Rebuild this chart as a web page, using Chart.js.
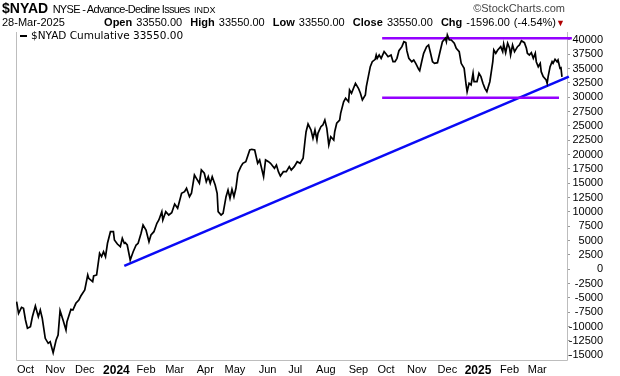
<!DOCTYPE html>
<html>
<head>
<meta charset="utf-8">
<script src="https://cdn.jsdelivr.net/npm/chart.js@4.4.1/dist/chart.umd.min.js"></script>
<style>
  html, body { margin: 0; padding: 0; background: #fff; }
  #wrap { position: relative; width: 620px; height: 376px; font-family: "Liberation Sans", Arial, sans-serif; color: #000; overflow: hidden; }
  canvas { position: absolute; left: 0; top: 0; }
  .hdr { position: absolute; white-space: nowrap; }
  .hdr b { font-weight: bold; }
</style>
</head>
<body>
<div id="wrap">
  <canvas id="myChart" width="620" height="376"></canvas>
  <div class="hdr" style="left:2px;top:0;line-height:16px;">
    <b style="font-size:14px">$NYAD</b> <span style="font-size:11px;letter-spacing:-0.7px">NYSE - Advance-Decline Issues</span> <span style="font-size:9px">INDX</span>
  </div>
  <div class="hdr" style="right:55px;top:1px;line-height:14px;font-size:11px;color:#444;">&copy;StockCharts.com</div>
  <div class="hdr" style="left:2px;top:15px;line-height:14px;font-size:11px;">28-Mar-2025</div>
  <div class="hdr" style="right:64px;top:15px;line-height:14px;font-size:11px;word-spacing:1px;">
    <b>Open</b> 33550.00 &nbsp;<b>High</b> 33550.00 &nbsp;<b>Low</b> 33550.00 &nbsp;<b>Close</b> 33550.00 &nbsp;<b>Chg</b> -1596.00 (-4.54%)
  </div>
  <div class="hdr" style="left:556px;top:17px;line-height:12px;font-size:9px;color:#b00000;">&#9660;</div>
</div>
<script>
// month ticks: calendar days since 2023-10-02 (first trading day of each month)
const monthDays = [0, 30, 60, 92, 122, 151, 182, 212, 245, 273, 304, 337, 365, 396, 427, 458, 490, 518];
const monthLabels = ['Oct', 'Nov', 'Dec', '2024', 'Feb', 'Mar', 'Apr', 'May', 'Jun', 'Jul', 'Aug', 'Sep', 'Oct', 'Nov', 'Dec', '2025', 'Feb', 'Mar'];

const yTickValues = [-15000, -12500, -10000, -7500, -5000, -2500, 0, 2500, 5000, 7500, 10000, 12500, 15000,
  17500, 20000, 22500, 25000, 27500, 30000, 32500, 35000, 37500, 40000];

// $NYAD cumulative, days since 2023-10-02
const nyadDays = [
  -9, -7, -4, -2, 0, 2, 5, 7, 10, 13, 15, 17, 20, 23, 25, 28, 31, 33, 35, 38,
  41, 42, 46, 48, 51, 54, 56, 60, 63, 64, 68, 69, 72, 75, 77, 79, 81, 83, 86, 89,
  90, 93, 96, 98, 100, 101, 103, 106, 109, 112, 114, 117, 119, 122, 125, 127, 130, 133, 135,
  138, 139, 142, 145, 148, 151, 154, 158, 161, 163, 166, 168, 171, 173, 176, 178, 181, 183, 185, 187,
  189, 192, 194, 195, 198, 200, 203, 205, 207, 209, 211, 213, 215, 218, 220, 223, 227, 229, 232, 235,
  237, 241, 243, 246, 248, 252, 254, 256, 258, 261, 264, 267, 269, 272, 275, 278, 281, 283,
  284, 286, 289, 291, 293, 295, 296, 299, 301, 303, 305, 307, 309, 312, 313, 315, 318, 319, 322, 324,
  327, 328, 330, 332, 334, 337, 339, 341, 344, 345, 347, 349, 351, 354, 355, 356, 358, 360, 363, 365,
  367, 370, 372, 374, 376, 378, 381, 383, 385, 386, 388, 391, 393, 395, 398, 399, 401, 403, 406, 408,
  410, 412, 414, 417,
  420, 422, 425, 426, 427, 429, 431, 434, 436, 439, 441, 444, 445, 446, 447, 449, 451, 453, 454, 457,
  459, 461, 463, 465, 467, 468, 470, 472, 473, 474, 476, 478, 481, 483, 484, 486, 488, 490, 491, 493,
  495, 498, 500, 502, 505, 507, 508, 510, 512, 514, 516, 517, 519, 521, 522, 524, 527, 528, 529, 531,
  533, 534, 536, 538, 539, 541, 542, 543
];
const nyadValues = [
  -5650, -7680, -6630, -6800, -8840, -10290, -10010, -8270, -6400, -8270, -7100, -8550, -12040, -12910, -12630, -14550, -12330, -11460, -7220, -8840,
  -10590, -9140, -6980, -7100, -5930, -5360, -4660, -3610, -990, -1570, -2160, -1170, -990, 2790, 2200, 3070, 2200, 4540, 6560, 6560,
  5110, 4410, 3940, 5410, 4540, 4640, 4240, 1620, 3070, 4240, 4540, 6280, 7730, 6860, 4810, 5980, 6560, 8020, 8600,
  10050, 8600, 10050, 9470, 9870, 11390, 10640, 13260, 13540, 14130, 12660, 13260, 16450, 15870, 15000, 17320, 16750, 15280, 16150, 15000,
  16150, 14700, 13260, 10050, 9470, 9770, 12660, 13830, 12380, 13950, 12660, 14130, 16750, 17900, 18490, 18770, 20810, 20930, 20810, 18490,
  19070, 16150, 19070, 18770, 18490, 17620, 18190, 17020, 16270, 17020, 17020, 17900, 17320, 17900, 18770, 18490, 19360, 22550,
  24000, 25340, 24300, 22850, 24300, 22550, 23720, 24870, 25170, 26040, 24590, 21680, 23130, 22550, 24000, 25470, 26040, 27210, 29230, 29830,
  29230, 31280, 30700, 31570, 32440, 31570, 30700, 29530, 30400, 31850, 33600, 35340, 36210, 36630, 37380, 36800, 37380, 36800, 37960, 37550,
  37080, 37380, 36210, 36210, 36800, 38130, 38830, 39700, 39530, 38130, 36800, 36210, 36510, 35930, 34890, 34640, 36210, 37680, 38830, 39130,
  37680, 36210, 35930, 36040,
  38250, 39700, 40290, 39700, 40870, 40000, 40000, 39420, 38550, 37960, 35930, 35060, 33600, 32150, 30980, 32440, 32150, 34190, 32720, 32720,
  34190, 33600, 32440, 31570, 30980, 31570, 32720, 35060, 36210, 38250, 37680, 38250, 38830, 37960, 39300, 37780, 39420, 38550, 37380, 39130,
  37960, 38830, 39130, 39870, 39530, 38550, 37680, 37380, 37780, 36800, 37680, 36210, 35340, 35930, 34470, 33600, 33020, 32440, 33600, 35340,
  36210, 35930, 36630, 36210, 36510, 35060, 35150, 33550
];

// drawn annotation lines: [startDay, endDay] and [startValue, endValue]
const upperBandDays = [361, 553];
const upperBandValues = [40290, 40290];
const lowerBandDays = [361, 540];
const lowerBandValues = [29930, 29930];
const trendDays = [100, 550];
const trendValues = [600, 33600];

const legendText = '$NYAD Cumulative 33550.00';

const toPoints = (xs, ys) => xs.map((x, i) => ({ x: x, y: ys[i] }));

const framePlugin = {
  id: 'frame',
  beforeDatasetsDraw(chart) {
    const { ctx, chartArea: a } = chart;
    ctx.save();
    ctx.strokeStyle = '#bdbdbd';
    ctx.lineWidth = 1;
    ctx.beginPath();
    ctx.moveTo(a.left + 0.5, a.top);
    ctx.lineTo(a.left + 0.5, a.bottom + 0.5);
    ctx.lineTo(a.right + 0.5, a.bottom + 0.5);
    ctx.lineTo(a.right + 0.5, a.top);
    ctx.stroke();
    ctx.restore();
  },
  afterDraw(chart) {
    const { ctx, chartArea: a } = chart;
    ctx.save();
    ctx.strokeStyle = '#000';
    ctx.lineWidth = 2;
    ctx.beginPath();
    ctx.moveTo(a.left + 4, a.top + 4);
    ctx.lineTo(a.left + 11, a.top + 4);
    ctx.stroke();
    ctx.fillStyle = '#000';
    ctx.font = '10.5px "DejaVu Sans"';
    ctx.textBaseline = 'middle';
    ctx.fillText(legendText, a.left + 15, a.top + 4);
    ctx.restore();
  }
};

Chart.defaults.font.family = '"Liberation Sans", Arial, sans-serif';
Chart.defaults.color = '#000';

const ctx = document.getElementById('myChart').getContext('2d');
const myChart = new Chart(ctx, {
  type: 'line',
  data: {
    datasets: [
      {
        label: 'NYAD',
        data: toPoints(nyadDays, nyadValues),
        borderColor: '#000',
        borderWidth: 1.7,
        pointRadius: 0,
        tension: 0
      },
      {
        label: 'upper',
        data: toPoints(upperBandDays, upperBandValues),
        borderColor: '#9400ff',
        borderWidth: 2.5,
        pointRadius: 0,
        clip: false
      },
      {
        label: 'lower',
        data: toPoints(lowerBandDays, lowerBandValues),
        borderColor: '#9400ff',
        borderWidth: 2.5,
        pointRadius: 0,
        clip: false
      },
      {
        label: 'trend',
        data: toPoints(trendDays, trendValues),
        borderColor: '#0a0af5',
        borderWidth: 2.6,
        pointRadius: 0,
        clip: false
      }
    ]
  },
  options: {
    responsive: false,
    animation: false,
    layout: { padding: { left: 16, right: 17, top: 32, bottom: 0 } },
    plugins: { legend: { display: false }, tooltip: { enabled: false } },
    scales: {
      x: {
        type: 'linear',
        min: -9.6,
        max: 548.1,
        grid: { display: false, drawTicks: false },
        border: { display: false },
        afterBuildTicks: (scale) => { scale.ticks = monthDays.map(v => ({ value: v })); },
        afterFit: (scale) => { scale.height = 16; },
        ticks: {
          autoSkip: false,
          maxRotation: 0,
          minRotation: 0,
          padding: 3,
          color: '#000',
          callback: (value, index) => monthLabels[index],
          font: (c) => /^\d{4}$/.test(monthLabels[c.index] || '')
            ? { size: 12, weight: 'bold' }
            : { size: 11 }
        }
      },
      y: {
        type: 'linear',
        position: 'right',
        min: -15821,
        max: 41392,
        border: { display: false },
        grid: { drawOnChartArea: false, drawTicks: true, tickLength: 3, color: '#999' },
        afterBuildTicks: (scale) => { scale.ticks = yTickValues.map(v => ({ value: v })); },
        afterFit: (scale) => { scale.width = 36; },
        ticks: {
          autoSkip: false,
          crossAlign: 'far',
          padding: 0,
          color: '#000',
          font: { size: 11 },
          callback: (value) => String(value)
        }
      }
    }
  },
  plugins: [framePlugin]
});
</script>
</body>
</html>
